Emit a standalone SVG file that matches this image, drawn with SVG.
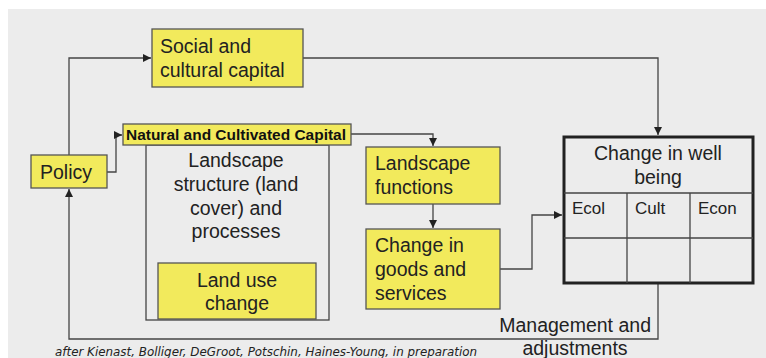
<svg xmlns="http://www.w3.org/2000/svg" width="766" height="358" viewBox="0 0 766 358">
<defs>
<style>
.bg{fill:#ececec}
.y{fill:#f2ea5c;stroke:#555;stroke-width:1.3}
.g{fill:none;stroke:#444;stroke-width:1.3}
.c{fill:none;stroke:#444;stroke-width:1.3}
.t{font-family:"Liberation Sans",Arial,sans-serif;font-size:19.5px;fill:#222}
.m{text-anchor:middle}
.b{font-family:"Liberation Sans",Arial,sans-serif;font-size:14.5px;font-weight:bold;fill:#111}
.s{font-family:"Liberation Sans",Arial,sans-serif;font-size:17px;fill:#222}
.cap{font-family:"DejaVu Sans",Verdana,sans-serif;font-size:11.5px;font-style:italic;fill:#222}
</style>
<marker id="ah" viewBox="0 0 10 10" refX="10" refY="5" markerWidth="8" markerHeight="8" markerUnits="userSpaceOnUse" orient="auto">
<path d="M0,0 L10,5 L0,10 z" fill="#222"/>
</marker>
</defs>
<rect class="bg" x="8" y="9" width="758" height="349"/>

<g id="connectors">
<polyline class="c" points="69,155 69,58 151,58" marker-end="url(#ah)"/>
<polyline class="c" points="107,172 116,172 116,135 122,135" marker-end="url(#ah)"/>
<polyline class="c" points="303,58 658,58 658,135" marker-end="url(#ah)"/>
<polyline class="c" points="351,134 433,134 433,146" marker-end="url(#ah)"/>
<polyline class="c" points="433,204 433,228" marker-end="url(#ah)"/>
<polyline class="c" points="500,269 532,269 532,215 562,215" marker-end="url(#ah)"/>
<polyline class="c" points="658,284 658,339 69,339 69,189" marker-end="url(#ah)"/>
</g>

<g id="social">
<rect class="y" x="152" y="29" width="151" height="58"/>
<text class="t" x="160" y="53">Social and</text>
<text class="t" x="160" y="77">cultural capital</text>
</g>

<g id="policy">
<rect class="y" x="31" y="155" width="76" height="33"/>
<text class="t" x="40" y="179">Policy</text>
</g>

<g id="landscape-structure">
<rect class="g" x="146" y="145" width="183" height="175"/>
<text class="t m" x="236" y="167">Landscape</text>
<text class="t m" x="236" y="191">structure (land</text>
<text class="t m" x="236" y="215">cover) and</text>
<text class="t m" x="236" y="238">processes</text>
</g>

<g id="natural">
<rect class="y" x="123" y="124" width="228" height="21"/>
<text class="b" x="126" y="140" textLength="220" lengthAdjust="spacingAndGlyphs">Natural and Cultivated Capital</text>
</g>

<g id="land-use">
<rect class="y" x="158" y="263" width="158" height="56"/>
<text class="t m" x="237" y="287">Land use</text>
<text class="t m" x="237" y="310">change</text>
</g>

<g id="functions">
<rect class="y" x="366" y="147" width="134" height="57"/>
<text class="t" x="375" y="170">Landscape</text>
<text class="t" x="375" y="194">functions</text>
</g>

<g id="goods">
<rect class="y" x="366" y="229" width="134" height="80"/>
<text class="t" x="375" y="252">Change in</text>
<text class="t" x="375" y="276">goods and</text>
<text class="t" x="375" y="300">services</text>
</g>

<g id="wellbeing">
<rect x="564" y="137" width="189" height="146" fill="none" stroke="#222" stroke-width="3"/>
<line class="g" x1="564" y1="193" x2="753" y2="193"/>
<line class="g" x1="564" y1="238" x2="753" y2="238"/>
<line class="g" x1="627" y1="193" x2="627" y2="283"/>
<line class="g" x1="690" y1="193" x2="690" y2="283"/>
<text class="t m" x="658" y="160">Change in well</text>
<text class="t m" x="658" y="184">being</text>
<text class="s" x="572" y="214">Ecol</text>
<text class="s" x="635" y="214">Cult</text>
<text class="s" x="698" y="214">Econ</text>
</g>

<g id="management">
<text class="t" x="651" y="332" text-anchor="end">Management and</text>
<text class="t m" x="575" y="355">adjustments</text>
</g>

<text class="cap" x="55" y="356" textLength="422" lengthAdjust="spacingAndGlyphs">after Kienast, Bolliger, DeGroot, Potschin, Haines-Young, in preparation</text>
</svg>
